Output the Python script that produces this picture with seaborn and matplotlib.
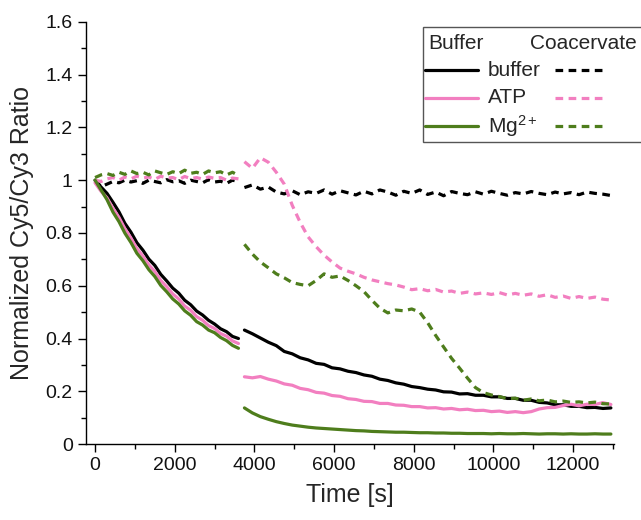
import numpy as np
import pandas as pd
import matplotlib
matplotlib.use("Agg")
import matplotlib.pyplot as plt
from matplotlib.lines import Line2D
from matplotlib.patches import Rectangle
import seaborn as sns

# ---------------- data ----------------
t1 = [0, 150, 300, 450, 600, 750, 900, 1050, 1200, 1350, 1500, 1650, 1800,
      1950, 2100, 2250, 2400, 2550, 2700, 2850, 3000, 3150, 3300, 3450, 3600]
t2 = [3750, 3950, 4150, 4350, 4550, 4750, 4950, 5150, 5350, 5550, 5750, 5950,
      6150, 6350, 6550, 6750, 6950, 7150, 7350, 7550, 7750, 7950, 8150, 8350,
      8550, 8750, 8950, 9150, 9350, 9550, 9750, 9950, 10150, 10350, 10550,
      10750, 10950, 11150, 11350, 11550, 11750, 11950, 12150, 12350, 12550,
      12750, 12950]

# Buffer (solid) – first segment
buffer_buf1 = [1.00, 0.974, 0.950, 0.916, 0.880, 0.836, 0.803, 0.763, 0.735, 0.701,
               0.677, 0.643, 0.618, 0.591, 0.572, 0.545, 0.528, 0.504, 0.489, 0.469,
               0.455, 0.437, 0.426, 0.408, 0.400]
atp_buf1 = [0.99, 0.958, 0.933, 0.893, 0.859, 0.816, 0.781, 0.741, 0.713, 0.679,
            0.654, 0.620, 0.596, 0.569, 0.550, 0.523, 0.507, 0.483, 0.469, 0.449,
            0.438, 0.419, 0.409, 0.391, 0.381]
mg_buf1 = [1.00, 0.963, 0.926, 0.879, 0.843, 0.799, 0.764, 0.723, 0.695, 0.661,
           0.635, 0.601, 0.577, 0.550, 0.531, 0.505, 0.488, 0.464, 0.451, 0.432,
           0.422, 0.404, 0.392, 0.374, 0.363]
# Coacervate (dashed) – first segment
buffer_coa1 = [1.00, 0.975, 0.985, 0.995, 0.990, 1.000, 0.993, 0.998, 0.988, 1.000,
               0.995, 0.990, 1.002, 0.994, 0.998, 0.988, 1.000, 0.995, 0.990, 1.002,
               0.993, 0.996, 0.988, 1.000, 0.995]
atp_coa1 = [1.00, 0.995, 1.005, 1.010, 1.000, 1.012, 1.005, 1.015, 1.008, 1.012,
            1.003, 1.015, 1.008, 1.010, 1.002, 1.014, 1.006, 1.010, 1.004, 1.012,
            1.007, 1.010, 1.000, 1.008, 1.005]
mg_coa1 = [1.01, 1.020, 1.025, 1.018, 1.030, 1.022, 1.035, 1.025, 1.030, 1.020,
           1.035, 1.028, 1.022, 1.032, 1.025, 1.038, 1.026, 1.030, 1.022, 1.035,
           1.028, 1.032, 1.020, 1.030, 1.018]

# second segment
buffer_buf2 = [0.432, 0.418, 0.402, 0.386, 0.373, 0.351, 0.342, 0.327, 0.319, 0.306,
               0.302, 0.289, 0.285, 0.276, 0.271, 0.262, 0.257, 0.246, 0.241, 0.232,
               0.227, 0.218, 0.214, 0.208, 0.205, 0.198, 0.197, 0.190, 0.191, 0.185,
               0.185, 0.179, 0.179, 0.173, 0.173, 0.166, 0.166, 0.158, 0.156, 0.149,
               0.149, 0.143, 0.143, 0.138, 0.139, 0.135, 0.137]
atp_buf2 = [0.255, 0.251, 0.256, 0.246, 0.239, 0.228, 0.223, 0.211, 0.206, 0.196,
            0.193, 0.184, 0.181, 0.172, 0.169, 0.162, 0.161, 0.154, 0.154, 0.148,
            0.147, 0.142, 0.142, 0.137, 0.138, 0.133, 0.135, 0.130, 0.132, 0.127,
            0.128, 0.123, 0.125, 0.120, 0.123, 0.119, 0.123, 0.133, 0.138, 0.139,
            0.146, 0.151, 0.145, 0.151, 0.150, 0.157, 0.150]
mg_buf2 = [0.137, 0.118, 0.104, 0.094, 0.085, 0.078, 0.072, 0.068, 0.064, 0.061,
           0.059, 0.057, 0.055, 0.053, 0.051, 0.050, 0.048, 0.047, 0.046, 0.045,
           0.045, 0.044, 0.043, 0.043, 0.042, 0.042, 0.041, 0.041, 0.040, 0.040,
           0.040, 0.039, 0.040, 0.039, 0.039, 0.040, 0.039, 0.038, 0.039, 0.039,
           0.038, 0.039, 0.038, 0.038, 0.039, 0.038, 0.038]
buffer_coa2 = [0.972, 0.982, 0.966, 0.974, 0.955, 0.948, 0.960, 0.945, 0.956, 0.950,
               0.963, 0.947, 0.960, 0.952, 0.944, 0.958, 0.948, 0.963, 0.955, 0.943,
               0.958, 0.950, 0.963, 0.946, 0.955, 0.941, 0.957, 0.950, 0.945, 0.956,
               0.947, 0.958, 0.950, 0.943, 0.953, 0.948, 0.957, 0.950, 0.945, 0.955,
               0.948, 0.953, 0.945, 0.955, 0.950, 0.947, 0.942]
atp_coa2 = [1.070, 1.045, 1.085, 1.068, 1.030, 0.985, 0.905, 0.840, 0.785, 0.748,
            0.716, 0.690, 0.667, 0.655, 0.645, 0.632, 0.622, 0.615, 0.608, 0.603,
            0.595, 0.585, 0.589, 0.581, 0.586, 0.576, 0.580, 0.571, 0.576, 0.569,
            0.573, 0.567, 0.574, 0.565, 0.571, 0.564, 0.569, 0.560, 0.566, 0.556,
            0.561, 0.552, 0.559, 0.552, 0.557, 0.549, 0.546]
mg_coa2 = [0.757, 0.720, 0.690, 0.668, 0.645, 0.630, 0.612, 0.605, 0.600, 0.620,
           0.645, 0.632, 0.637, 0.620, 0.600, 0.578, 0.545, 0.515, 0.497, 0.508,
           0.505, 0.512, 0.500, 0.460, 0.412, 0.368, 0.325, 0.288, 0.250, 0.214,
           0.195, 0.186, 0.180, 0.172, 0.174, 0.166, 0.171, 0.164, 0.167, 0.160,
           0.163, 0.158, 0.160, 0.156, 0.159, 0.153, 0.152]

conditions = ["buffer", "ATP", "Mg$^{2+}$"]
colors = ["#000000", "#f27fc0", "#4e7d1c"]
buf_series = [(buffer_buf1, buffer_buf2), (atp_buf1, atp_buf2), (mg_buf1, mg_buf2)]
coa_series = [(buffer_coa1, buffer_coa2), (atp_coa1, atp_coa2), (mg_coa1, mg_coa2)]

# ---------------- style ----------------
sns.set_style("ticks")
plt.rcParams["font.family"] = ["Liberation Sans", "DejaVu Sans"]
plt.rcParams["mathtext.fontset"] = "custom"
plt.rcParams["mathtext.rm"] = "Liberation Sans"
plt.rcParams["mathtext.it"] = "Liberation Sans:italic"

fig = plt.figure(figsize=(6.41, 5.2), dpi=100)
ax = fig.add_axes([0.134, 0.146, 0.824, 0.812])

LW = 2.3
DASH = (2.4, 1.7)

for col, (s1, s2), (c1, c2) in zip(colors, buf_series, coa_series):
    for tt, yy in ((t1, c1), (t2, c2)):
        sns.lineplot(x=tt, y=yy, ax=ax, color=col, lw=LW, estimator=None,
                     sort=False, dashes=False, legend=False)
        ax.lines[-1].set_dashes(DASH)
    for tt, yy in ((t1, s1), (t2, s2)):
        sns.lineplot(x=tt, y=yy, ax=ax, color=col, lw=LW, estimator=None,
                     sort=False, legend=False)

ax.set_xlim(-230, 13030)
ax.set_ylim(0, 1.6)
ax.set_xticks([0, 2000, 4000, 6000, 8000, 10000, 12000])
ax.set_xticks(np.arange(1000, 13001, 2000), minor=True)
yt = [0, 0.2, 0.4, 0.6, 0.8, 1.0, 1.2, 1.4, 1.6]
ax.set_yticks(yt)
ax.set_yticklabels(["0", "0.2", "0.4", "0.6", "0.8", "1", "1.2", "1.4", "1.6"])
ax.set_yticks(np.arange(0.1, 1.6, 0.2), minor=True)
ax.tick_params(axis="both", which="major", direction="out", length=6, width=1,
               labelsize=14, color="black", labelcolor="#111111")
ax.tick_params(axis="both", which="minor", direction="out", length=3.5, width=1,
               color="black")
for side in ("top", "right"):
    ax.spines[side].set_visible(False)
for side in ("left", "bottom"):
    ax.spines[side].set_linewidth(1)
    ax.spines[side].set_color("black")

ax.set_xlabel("Time [s]", fontsize=18, labelpad=6)
ax.set_ylabel("Normalized Cy5/Cy3 Ratio", fontsize=18, labelpad=8)

# ---------------- legend (drawn in figure coordinates) ----------------
box = Rectangle((0.660, 0.727), 0.36, 0.221, transform=fig.transFigure,
                facecolor="white", edgecolor="#555555", lw=1.0, clip_on=False)
fig.add_artist(box)
fig.text(0.668, 0.917, "Buffer", fontsize=15, va="center", ha="left")
fig.text(0.827, 0.917, "Coacervate", fontsize=15, va="center", ha="left")
row_y = [0.865, 0.812, 0.757]
for lab, col, yy in zip(conditions, colors, row_y):
    fig.add_artist(Line2D([0.663, 0.746], [yy, yy], transform=fig.transFigure,
                          color=col, lw=LW))
    ln = Line2D([0.866, 0.944], [yy, yy], transform=fig.transFigure,
                color=col, lw=LW)
    ln.set_dashes(DASH)
    fig.add_artist(ln)
    fig.text(0.761, yy, lab, fontsize=15, va="center", ha="left")

fig.savefig("out.png", dpi=100)
